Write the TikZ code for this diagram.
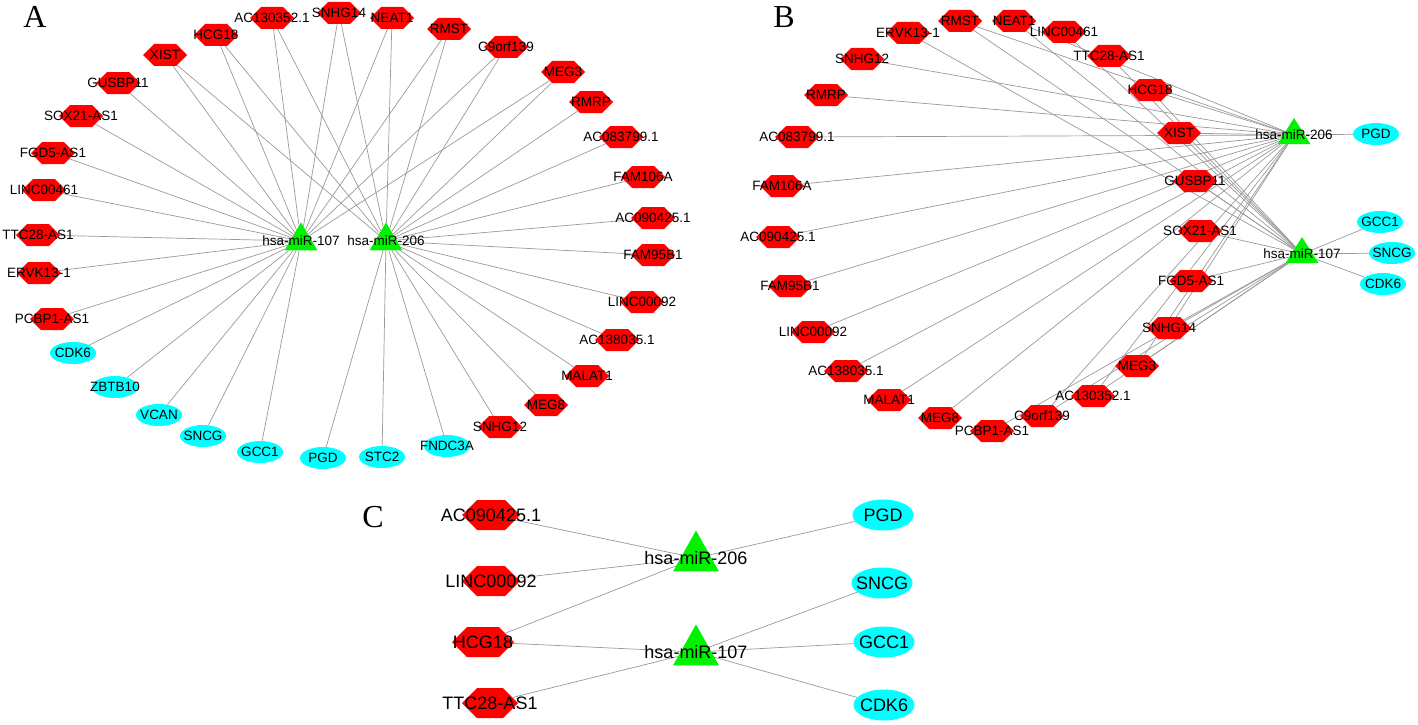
\documentclass[tikz,border=0pt]{standalone}
\usepackage{fontspec}
\setmainfont{Liberation Sans}
\newfontfamily\panelfont{Liberation Serif}
\usetikzlibrary{shapes.geometric, shapes.symbols, backgrounds}
\definecolor{lncred}{rgb}{1, 0, 0}
\definecolor{mirgreen}{rgb}{0, 0.95, 0}
\definecolor{mrnacyan}{rgb}{0, 1, 1}
\definecolor{edgegray}{rgb}{0.6, 0.6, 0.6}

\begin{document}
\begin{tikzpicture}[x=1pt, y=-1pt]
    \tikzstyle{lnc_style} = [shape=signal, signal to=east and west, fill=lncred, inner sep=0pt, minimum width=44pt, minimum height=22pt]
    \tikzstyle{mir_style} = [shape=isosceles triangle, shape border rotate=90, isosceles triangle stretches, fill=mirgreen, inner sep=0pt, minimum width=33pt, minimum height=28pt]
    \tikzstyle{mrna_style} = [shape=ellipse, fill=mrnacyan, inner sep=0pt, minimum width=46pt, minimum height=22pt]
    \tikzstyle{edge_style} = [edgegray, line width=0.7pt]
    \tikzstyle{panel_style} = [font=\panelfont\fontsize{32}{32}\selectfont, inner sep=0pt]
    \tikzstyle{every label} = [font=\fontsize{13.5}{14}\selectfont, inner sep=0pt]

    \useasboundingbox (0,0) rectangle (1418,725);

    % A
    \node[panel_style] (a_letter) at (35,17) {A};
    \begin{scope}
      \node[lnc_style, label=center:XIST] (a_xist) at (165,55) {};
      \node[lnc_style, label=center:HCG18] (a_hcg18) at (216,35) {};
      \node[lnc_style, label=center:AC130352.1] (a_ac130352) at (272,18) {};
      \node[lnc_style, label=center:SNHG14] (a_snhg14) at (339,13) {};
      \node[lnc_style, label=center:NEAT1] (a_neat1) at (392,18) {};
      \node[lnc_style, label=center:RMST] (a_rmst) at (449,29) {};
      \node[lnc_style, label=center:C9orf139] (a_c9orf139) at (506,47) {};
      \node[lnc_style, label=center:MEG3] (a_meg3) at (563,72) {};
      \node[lnc_style, label=center:RMRP] (a_rmrp) at (591,102) {};
      \node[lnc_style, label=center:AC083799.1] (a_ac083799) at (621,137) {};
      \node[lnc_style, label=center:FAM106A] (a_fam106a) at (643,177) {};
      \node[lnc_style, label=center:AC090425.1] (a_ac090425) at (653,218) {};
      \node[lnc_style, label=center:FAM95B1] (a_fam95b1) at (653,255) {};
      \node[lnc_style, label=center:LINC00092] (a_linc00092) at (642,302) {};
      \node[lnc_style, label=center:AC138035.1] (a_ac138035) at (617,340) {};
      \node[lnc_style, label=center:MALAT1] (a_malat1) at (587,376) {};
      \node[lnc_style, label=center:MEG8] (a_meg8) at (546,405) {};
      \node[lnc_style, label=center:SNHG12] (a_snhg12) at (500,427) {};
      \node[lnc_style, label=center:PCBP1-AS1] (a_pcbp1as1) at (52,319) {};
      \node[lnc_style, label=center:ERVK13-1] (a_ervk131) at (39,273) {};
      \node[lnc_style, label=center:TTC28-AS1] (a_ttc28as1) at (38,235) {};
      \node[lnc_style, label=center:LINC00461] (a_linc00461) at (44,190) {};
      \node[lnc_style, label=center:FGD5-AS1] (a_fgd5as1) at (53,153) {};
      \node[lnc_style, label=center:SOX21-AS1] (a_sox21as1) at (81,116) {};
      \node[lnc_style, label=center:GUSBP11] (a_gusbp11) at (118,83) {};

      \node[mrna_style, label=center:FNDC3A] (a_fndc3a) at (447,446) {};
      \node[mrna_style, label=center:STC2] (a_stc2) at (382,457) {};
      \node[mrna_style, label=center:PGD] (a_pgd) at (323,458) {};
      \node[mrna_style, label=center:GCC1] (a_gcc1) at (260,452) {};
      \node[mrna_style, label=center:SNCG] (a_sncg) at (203,436) {};
      \node[mrna_style, label=center:VCAN] (a_vcan) at (159,415) {};
      \node[mrna_style, label=center:ZBTB10] (a_zbtb10) at (115,387) {};
      \node[mrna_style, label=center:CDK6] (a_cdk6) at (73,353) {};

      \node[mir_style, label=center:hsa-miR-107] (a_mir107) at (301,241) {};
      \node[mir_style, label=center:hsa-miR-206] (a_mir206) at (386,241) {};
    \end{scope}

    % B
    \node[panel_style] (b_letter) at (784,17) {B};
    \begin{scope}
      \node[lnc_style, label=center:ERVK13-1] (b_ervk131) at (908,33) {};
      \node[lnc_style, label=center:RMST] (b_rmst) at (960,21) {};
      \node[lnc_style, label=center:NEAT1] (b_neat1) at (1014,21) {};
      \node[lnc_style, label=center:LINC00461] (b_linc00461) at (1064,32) {};
      \node[lnc_style, label=center:TTC28-AS1] (b_ttc28as1) at (1109,56) {};
      \node[lnc_style, label=center:HCG18] (b_hcg18) at (1150,90) {};
      \node[lnc_style, label=center:XIST] (b_xist) at (1179,133) {};
      \node[lnc_style, label=center:GUSBP11] (b_gusbp11) at (1195,181) {};
      \node[lnc_style, label=center:SOX21-AS1] (b_sox21as1) at (1200,231) {};
      \node[lnc_style, label=center:FGD5-AS1] (b_fgd5as1) at (1191,281) {};
      \node[lnc_style, label=center:SNHG14] (b_snhg14) at (1169,328) {};
      \node[lnc_style, label=center:MEG3] (b_meg3) at (1137,366) {};
      \node[lnc_style, label=center:AC130352.1] (b_ac130352) at (1093,396) {};
      \node[lnc_style, label=center:C9orf139] (b_c9orf139) at (1042,416) {};
      \node[lnc_style, label=center:PCBP1-AS1] (b_pcbp1as1) at (992,431) {};
      \node[lnc_style, label=center:MEG8] (b_meg8) at (940,418) {};
      \node[lnc_style, label=center:MALAT1] (b_malat1) at (889,400) {};
      \node[lnc_style, label=center:AC138035.1] (b_ac138035) at (846,371) {};
      \node[lnc_style, label=center:LINC00092] (b_linc00092) at (813,332) {};
      \node[lnc_style, label=center:FAM95B1] (b_fam95b1) at (790,286) {};
      \node[lnc_style, label=center:AC090425.1] (b_ac090425) at (778,237) {};
      \node[lnc_style, label=center:FAM106A] (b_fam106a) at (782,186) {};
      \node[lnc_style, label=center:AC083799.1] (b_ac083799) at (797,137) {};
      \node[lnc_style, label=center:RMRP] (b_rmrp) at (826,95) {};
      \node[lnc_style, label=center:SNHG12] (b_snhg12) at (862,59) {};

      \node[mrna_style, label=center:PGD] (b_pgd) at (1376,134) {};
      \node[mrna_style, label=center:GCC1] (b_gcc1) at (1380,222) {};
      \node[mrna_style, label=center:SNCG] (b_sncg) at (1392,253) {};
      \node[mrna_style, label=center:CDK6] (b_cdk6) at (1383,284) {};

      \node[mir_style, minimum height=26pt, label=center:hsa-miR-206] (b_mir206) at (1294,135) {};
      \node[mir_style, minimum height=26pt, label=center:hsa-miR-107] (b_mir107) at (1302,254) {};
    \end{scope}

    % shared edges of A and B
    \begin{scope}[on background layer]
      \foreach \p in {a,b} {
        \foreach \n in {xist,hcg18,ac130352,snhg14,neat1,rmst,c9orf139,meg3} {
          \draw[edge_style] (\p_\n) -- (\p_mir107);
          \draw[edge_style] (\p_\n) -- (\p_mir206);
        }
        \foreach \n in {gusbp11,sox21as1,fgd5as1,linc00461,ttc28as1,ervk131,pcbp1as1}
          \draw[edge_style] (\p_\n) -- (\p_mir107);
        \foreach \n in {rmrp,ac083799,fam106a,ac090425,fam95b1,linc00092,ac138035,malat1,meg8,snhg12}
          \draw[edge_style] (\p_\n) -- (\p_mir206);
      }
      \foreach \n in {cdk6,zbtb10,vcan,sncg,gcc1}
        \draw[edge_style] (a_\n) -- (a_mir107);
      \foreach \n in {pgd,stc2,fndc3a}
        \draw[edge_style] (a_\n) -- (a_mir206);
      \foreach \n in {gcc1,sncg,cdk6}
        \draw[edge_style] (b_\n) -- (b_mir107);
      \draw[edge_style] (b_pgd) -- (b_mir206);
    \end{scope}

    % C
    \node[panel_style] (c_letter) at (373,517) {C};
    \begin{scope}[every label/.style={font=\fontsize{18}{20}\selectfont, inner sep=0pt}]
      \node[lnc_style, minimum width=58pt, minimum height=30pt, label=center:AC090425.1] (c_ac090425) at (491,515) {};
      \node[lnc_style, minimum width=58pt, minimum height=30pt, label=center:LINC00092] (c_linc00092) at (491,581) {};
      \node[lnc_style, minimum width=62pt, minimum height=30pt, label=center:HCG18] (c_hcg18) at (483,642) {};
      \node[lnc_style, minimum width=56pt, minimum height=30pt, label=center:TTC28-AS1] (c_ttc28as1) at (490,703) {};

      \node[mrna_style, minimum width=61pt, minimum height=31pt, label=center:PGD] (c_pgd) at (883,515) {};
      \node[mrna_style, minimum width=61pt, minimum height=31pt, label=center:SNCG] (c_sncg) at (882,583) {};
      \node[mrna_style, minimum width=61pt, minimum height=31pt, label=center:GCC1] (c_gcc1) at (884,642) {};
      \node[mrna_style, minimum width=61pt, minimum height=31pt, label=center:CDK6] (c_cdk6) at (884,705) {};

      \node[mir_style, minimum width=46pt, minimum height=41pt, label=center:hsa-miR-206] (c_mir206) at (696,558) {};
      \node[mir_style, minimum width=46pt, minimum height=41pt, label=center:hsa-miR-107] (c_mir107) at (696,652) {};
    \end{scope}
    \begin{scope}[on background layer]
      \draw[edge_style] (c_ac090425) -- (c_mir206);
      \draw[edge_style] (c_linc00092) -- (c_mir206);
      \draw[edge_style] (c_hcg18) -- (c_mir206);
      \draw[edge_style] (c_hcg18) -- (c_mir107);
      \draw[edge_style] (c_ttc28as1) -- (c_mir107);
      \draw[edge_style] (c_pgd) -- (c_mir206);
      \draw[edge_style] (c_sncg) -- (c_mir107);
      \draw[edge_style] (c_gcc1) -- (c_mir107);
      \draw[edge_style] (c_cdk6) -- (c_mir107);
    \end{scope}
\end{tikzpicture}
\end{document}
